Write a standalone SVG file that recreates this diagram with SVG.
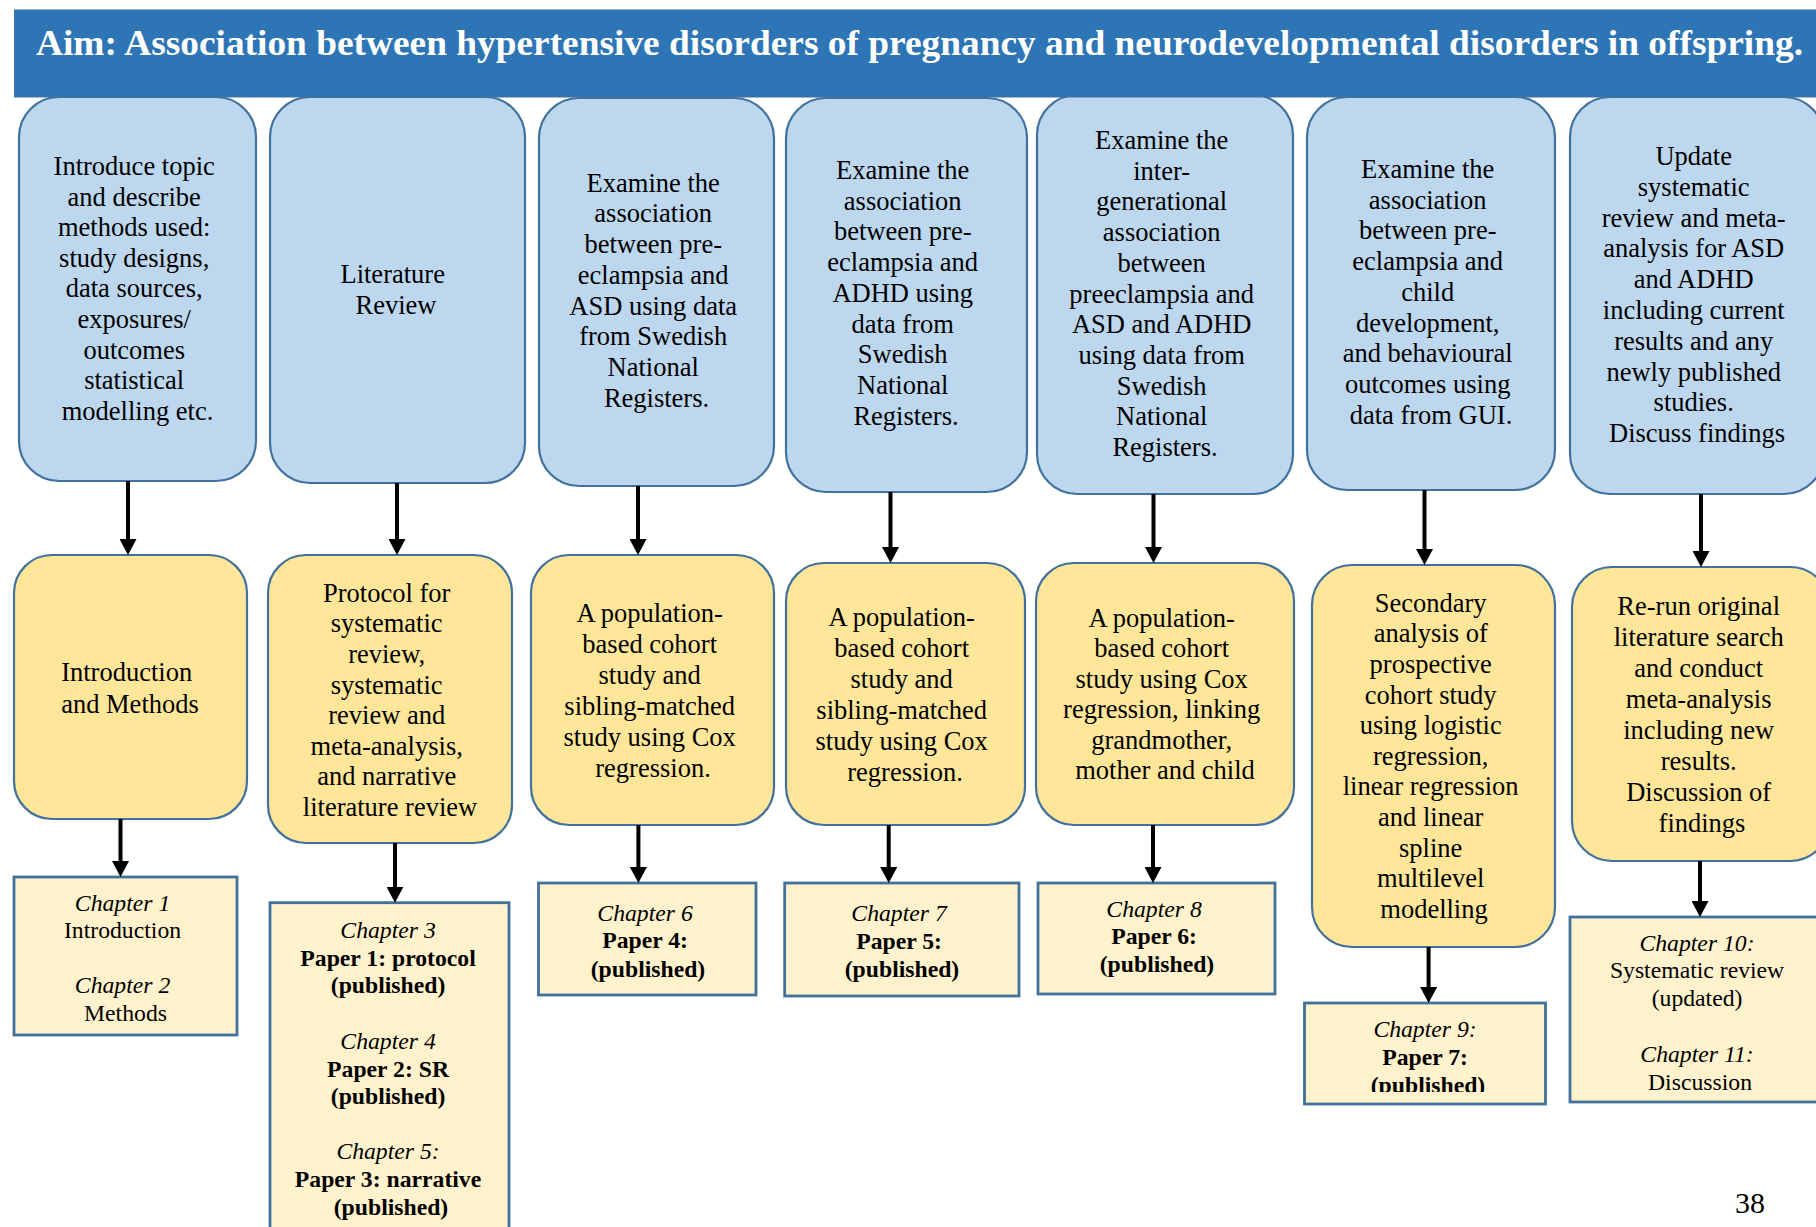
<svg xmlns="http://www.w3.org/2000/svg" width="1816" height="1227" viewBox="0 0 1816 1227" font-family="'Liberation Serif', 'DejaVu Serif', serif">
  <style>
    .top { fill: #BDD7EE; stroke: #41719C; stroke-width: 2.2; }
    .mid { fill: #FFE699; stroke: #41719C; stroke-width: 2.2; }
    .bot { fill: #FFF2CC; stroke: #41719C; stroke-width: 2.8; }
    text { font-family: 'Liberation Serif', 'DejaVu Serif', serif; font-weight: normal; fill: #000; }
    .t { font-size: 26.5px; text-anchor: middle; }
    .s { font-size: 23.7px; text-anchor: middle; }
    .i { font-style: italic; }
    .b { font-weight: bold; }
    .conn line { stroke: #000; stroke-width: 4; marker-end: url(#ah); }
  </style>
  <defs>
    <marker id="ah" markerUnits="userSpaceOnUse" viewBox="0 0 16 17" markerWidth="16" markerHeight="17" refX="4" refY="8.5" orient="auto">
      <path d="M0,0 L16,8.5 L0,17 Z" fill="#000"/>
    </marker>
    <clipPath id="clipB6">
      <rect x="1304" y="1003" width="242" height="89"/>
    </clipPath>
  </defs>

  <rect width="1816" height="1227" fill="#fff"/>

  <!-- Row 1: aims of each chapter -->
  <g id="aim-intro">
    <rect class="top" x="19" y="97" width="237" height="384" rx="40"/>
    <text class="t">
      <tspan x="137.5" y="175">Introduce topic</tspan>
      <tspan x="137.5" y="205.6">and describe</tspan>
      <tspan x="137.5" y="236.2">methods used:</tspan>
      <tspan x="137.5" y="266.8">study designs,</tspan>
      <tspan x="137.5" y="297.4">data sources,</tspan>
      <tspan x="137.5" y="328">exposures/</tspan>
      <tspan x="137.5" y="358.6">outcomes</tspan>
      <tspan x="137.5" y="389.2">statistical</tspan>
      <tspan x="137.5" y="419.8">modelling etc.</tspan>
    </text>
  </g>
  <g id="aim-litreview">
    <rect class="top" x="270" y="97" width="255" height="386" rx="40"/>
    <text class="t">
      <tspan x="396" y="283">Literature</tspan>
      <tspan x="396" y="314">Review</tspan>
    </text>
  </g>
  <g id="aim-asd">
    <rect class="top" x="539" y="98" width="235" height="388" rx="40"/>
    <text class="t">
      <tspan x="656.5" y="191.7">Examine the</tspan>
      <tspan x="656.5" y="222.4">association</tspan>
      <tspan x="656.5" y="253.1">between pre-</tspan>
      <tspan x="656.5" y="283.8">eclampsia and</tspan>
      <tspan x="656.5" y="314.5">ASD using data</tspan>
      <tspan x="656.5" y="345.2">from Swedish</tspan>
      <tspan x="656.5" y="375.9">National</tspan>
      <tspan x="656.5" y="406.6">Registers.</tspan>
    </text>
  </g>
  <g id="aim-adhd">
    <rect class="top" x="786" y="98" width="241" height="394" rx="40"/>
    <text class="t">
      <tspan x="906" y="179">Examine the</tspan>
      <tspan x="906" y="209.7">association</tspan>
      <tspan x="906" y="240.4">between pre-</tspan>
      <tspan x="906" y="271.1">eclampsia and</tspan>
      <tspan x="906" y="301.8">ADHD using</tspan>
      <tspan x="906" y="332.5">data from</tspan>
      <tspan x="906" y="363.2">Swedish</tspan>
      <tspan x="906" y="393.9">National</tspan>
      <tspan x="906" y="424.6">Registers.</tspan>
    </text>
  </g>
  <g id="aim-intergen">
    <rect class="top" x="1037" y="95" width="256" height="399" rx="40"/>
    <text class="t">
      <tspan x="1165" y="149">Examine the</tspan>
      <tspan x="1165" y="179.7">inter-</tspan>
      <tspan x="1165" y="210.4">generational</tspan>
      <tspan x="1165" y="241.1">association</tspan>
      <tspan x="1165" y="271.8">between</tspan>
      <tspan x="1165" y="302.5">preeclampsia and</tspan>
      <tspan x="1165" y="333.2">ASD and ADHD</tspan>
      <tspan x="1165" y="363.9">using data from</tspan>
      <tspan x="1165" y="394.6">Swedish</tspan>
      <tspan x="1165" y="425.3">National</tspan>
      <tspan x="1165" y="456">Registers.</tspan>
    </text>
  </g>
  <g id="aim-gui">
    <rect class="top" x="1307" y="97" width="248" height="393" rx="40"/>
    <text class="t">
      <tspan x="1431" y="178">Examine the</tspan>
      <tspan x="1431" y="208.7">association</tspan>
      <tspan x="1431" y="239.4">between pre-</tspan>
      <tspan x="1431" y="270.1">eclampsia and</tspan>
      <tspan x="1431" y="300.8">child</tspan>
      <tspan x="1431" y="331.5">development,</tspan>
      <tspan x="1431" y="362.2">and behavioural</tspan>
      <tspan x="1431" y="392.9">outcomes using</tspan>
      <tspan x="1431" y="423.6">data from GUI.</tspan>
    </text>
  </g>
  <g id="aim-update">
    <rect class="top" x="1570" y="97" width="254" height="397" rx="40"/>
    <text class="t">
      <tspan x="1697" y="165">Update</tspan>
      <tspan x="1697" y="195.8">systematic</tspan>
      <tspan x="1697" y="226.6">review and meta-</tspan>
      <tspan x="1697" y="257.4">analysis for ASD</tspan>
      <tspan x="1697" y="288.2">and ADHD</tspan>
      <tspan x="1697" y="319">including current</tspan>
      <tspan x="1697" y="349.8">results and any</tspan>
      <tspan x="1697" y="380.6">newly published</tspan>
      <tspan x="1697" y="411.4">studies.</tspan>
      <tspan x="1697" y="442.2">Discuss findings</tspan>
    </text>
  </g>

  <!-- Title banner -->
  <g id="banner">
    <rect x="14.5" y="10" width="1810" height="87" fill="#2E75B6" stroke="#41719C" stroke-width="1"/>
    <text x="36" y="55" font-size="35" style="fill:#fff; font-weight:bold" textLength="1767" lengthAdjust="spacingAndGlyphs">Aim: Association between hypertensive disorders of pregnancy and neurodevelopmental disorders in offspring.</text>
  </g>

  <!-- Row 2: methods -->
  <g id="method-intro">
    <rect class="mid" x="14" y="555" width="233" height="264" rx="38"/>
    <text class="t">
      <tspan x="130" y="681">Introduction</tspan>
      <tspan x="130" y="713.3">and Methods</tspan>
    </text>
  </g>
  <g id="method-protocol">
    <rect class="mid" x="268" y="555" width="244" height="288" rx="38"/>
    <text class="t">
      <tspan x="390" y="601.7">Protocol for</tspan>
      <tspan x="390" y="632.3">systematic</tspan>
      <tspan x="390" y="662.9">review,</tspan>
      <tspan x="390" y="693.5">systematic</tspan>
      <tspan x="390" y="724.1">review and</tspan>
      <tspan x="390" y="754.7">meta-analysis,</tspan>
      <tspan x="390" y="785.3">and narrative</tspan>
      <tspan x="390" y="815.9">literature review</tspan>
    </text>
  </g>
  <g id="method-asd">
    <rect class="mid" x="531" y="555" width="243" height="270" rx="38"/>
    <text class="t">
      <tspan x="653" y="621.7">A population-</tspan>
      <tspan x="653" y="652.7">based cohort</tspan>
      <tspan x="653" y="683.7">study and</tspan>
      <tspan x="653" y="714.7">sibling-matched</tspan>
      <tspan x="653" y="745.7">study using Cox</tspan>
      <tspan x="653" y="776.7">regression.</tspan>
    </text>
  </g>
  <g id="method-adhd">
    <rect class="mid" x="786" y="563" width="239" height="262" rx="38"/>
    <text class="t">
      <tspan x="905" y="626">A population-</tspan>
      <tspan x="905" y="656.9">based cohort</tspan>
      <tspan x="905" y="687.8">study and</tspan>
      <tspan x="905" y="718.7">sibling-matched</tspan>
      <tspan x="905" y="749.6">study using Cox</tspan>
      <tspan x="905" y="780.5">regression.</tspan>
    </text>
  </g>
  <g id="method-intergen">
    <rect class="mid" x="1036" y="563" width="258" height="262" rx="38"/>
    <text class="t">
      <tspan x="1165" y="627">A population-</tspan>
      <tspan x="1165" y="657.4">based cohort</tspan>
      <tspan x="1165" y="687.8">study using Cox</tspan>
      <tspan x="1165" y="718.2">regression, linking</tspan>
      <tspan x="1165" y="748.6">grandmother,</tspan>
      <tspan x="1165" y="779">mother and child</tspan>
    </text>
  </g>
  <g id="method-gui">
    <rect class="mid" x="1312" y="565" width="243" height="382" rx="40"/>
    <text class="t">
      <tspan x="1434" y="611.7">Secondary</tspan>
      <tspan x="1434" y="642.3">analysis of</tspan>
      <tspan x="1434" y="672.9">prospective</tspan>
      <tspan x="1434" y="703.5">cohort study</tspan>
      <tspan x="1434" y="734.1">using logistic</tspan>
      <tspan x="1434" y="764.7">regression,</tspan>
      <tspan x="1434" y="795.3">linear regression</tspan>
      <tspan x="1434" y="825.9">and linear</tspan>
      <tspan x="1434" y="856.5">spline</tspan>
      <tspan x="1434" y="887.1">multilevel</tspan>
      <tspan x="1434" y="917.7">modelling</tspan>
    </text>
  </g>
  <g id="method-update">
    <rect class="mid" x="1572" y="567" width="258" height="294" rx="40"/>
    <text class="t">
      <tspan x="1702" y="615">Re-run original</tspan>
      <tspan x="1702" y="645.95">literature search</tspan>
      <tspan x="1702" y="676.9">and conduct</tspan>
      <tspan x="1702" y="707.85">meta-analysis</tspan>
      <tspan x="1702" y="738.8">including new</tspan>
      <tspan x="1702" y="769.75">results.</tspan>
      <tspan x="1702" y="800.7">Discussion of</tspan>
      <tspan x="1702" y="831.65">findings</tspan>
    </text>
  </g>

  <!-- Row 3: thesis chapters -->
  <g id="chapters-1-2">
    <rect class="bot" x="14" y="877" width="223" height="158"/>
    <text class="s">
      <tspan class="i" x="125.5" y="910.7">Chapter 1</tspan>
      <tspan x="125.5" y="937.7">Introduction</tspan>
      <tspan class="i" x="125.5" y="993">Chapter 2</tspan>
      <tspan x="125.5" y="1020.7">Methods</tspan>
    </text>
  </g>
  <g id="chapters-3-5">
    <rect class="bot" x="270" y="902.7" width="239" height="340"/>
    <text class="s">
      <tspan class="i" x="391" y="938">Chapter 3</tspan>
      <tspan class="b" x="391" y="965.5">Paper 1: protocol</tspan>
      <tspan class="b" x="391" y="993">(published)</tspan>
      <tspan class="i" x="391" y="1049">Chapter 4</tspan>
      <tspan class="b" x="391" y="1076.5">Paper 2: SR</tspan>
      <tspan class="b" x="391" y="1104">(published)</tspan>
      <tspan class="i" x="391" y="1158.5">Chapter 5:</tspan>
      <tspan class="b" x="391" y="1186.5">Paper 3: narrative</tspan>
      <tspan class="b" x="391" y="1214.5">(published)</tspan>
    </text>
  </g>
  <g id="chapter-6">
    <rect class="bot" x="538.5" y="883" width="217.5" height="112"/>
    <text class="s">
      <tspan class="i" x="648" y="920.7">Chapter 6</tspan>
      <tspan class="b" x="648" y="948.2">Paper 4:</tspan>
      <tspan class="b" x="648" y="976.7">(published)</tspan>
    </text>
  </g>
  <g id="chapter-7">
    <rect class="bot" x="784.7" y="883" width="234.3" height="113"/>
    <text class="s">
      <tspan class="i" x="902" y="921">Chapter 7</tspan>
      <tspan class="b" x="902" y="948.5">Paper 5:</tspan>
      <tspan class="b" x="902" y="977">(published)</tspan>
    </text>
  </g>
  <g id="chapter-8">
    <rect class="bot" x="1038" y="883" width="237" height="111"/>
    <text class="s">
      <tspan class="i" x="1157" y="916.7">Chapter 8</tspan>
      <tspan class="b" x="1157" y="944.2">Paper 6:</tspan>
      <tspan class="b" x="1157" y="971.7">(published)</tspan>
    </text>
  </g>
  <g id="chapter-9">
    <rect class="bot" x="1304.5" y="1003" width="241" height="101"/>
    <text class="s" clip-path="url(#clipB6)">
      <tspan class="i" x="1428" y="1036.7">Chapter 9:</tspan>
      <tspan class="b" x="1428" y="1065">Paper 7:</tspan>
      <tspan class="b" x="1428" y="1093">(published)</tspan>
    </text>
  </g>
  <g id="chapters-10-11">
    <rect class="bot" x="1570" y="917" width="260" height="185"/>
    <text class="s">
      <tspan class="i" x="1700" y="950.7">Chapter 10:</tspan>
      <tspan x="1700" y="978.3">Systematic review</tspan>
      <tspan x="1700" y="1006">(updated)</tspan>
      <tspan class="i" x="1700" y="1062">Chapter 11:</tspan>
      <tspan x="1700" y="1089.5">Discussion</tspan>
    </text>
  </g>

  <!-- Connectors: aim -> method -> chapter -->
  <g id="connectors" class="conn">
    <line x1="128" y1="481" x2="128" y2="543"/>
    <line x1="397" y1="483" x2="397" y2="543"/>
    <line x1="638" y1="486" x2="638" y2="543"/>
    <line x1="890.5" y1="492" x2="890.5" y2="551"/>
    <line x1="1153.5" y1="494" x2="1153.5" y2="551"/>
    <line x1="1424.5" y1="490" x2="1424.5" y2="553"/>
    <line x1="1701" y1="494" x2="1701" y2="555"/>
    <line x1="120.5" y1="819" x2="120.5" y2="865"/>
    <line x1="395" y1="843" x2="395" y2="890.7"/>
    <line x1="638.4" y1="825" x2="638.4" y2="871"/>
    <line x1="888.7" y1="825" x2="888.7" y2="871"/>
    <line x1="1153" y1="825" x2="1153" y2="871"/>
    <line x1="1428.6" y1="947" x2="1428.6" y2="991"/>
    <line x1="1700" y1="861" x2="1700" y2="905"/>
  </g>

  <!-- Page number -->
  <text x="1750" y="1212.7" font-size="30" text-anchor="middle">38</text>
</svg>
